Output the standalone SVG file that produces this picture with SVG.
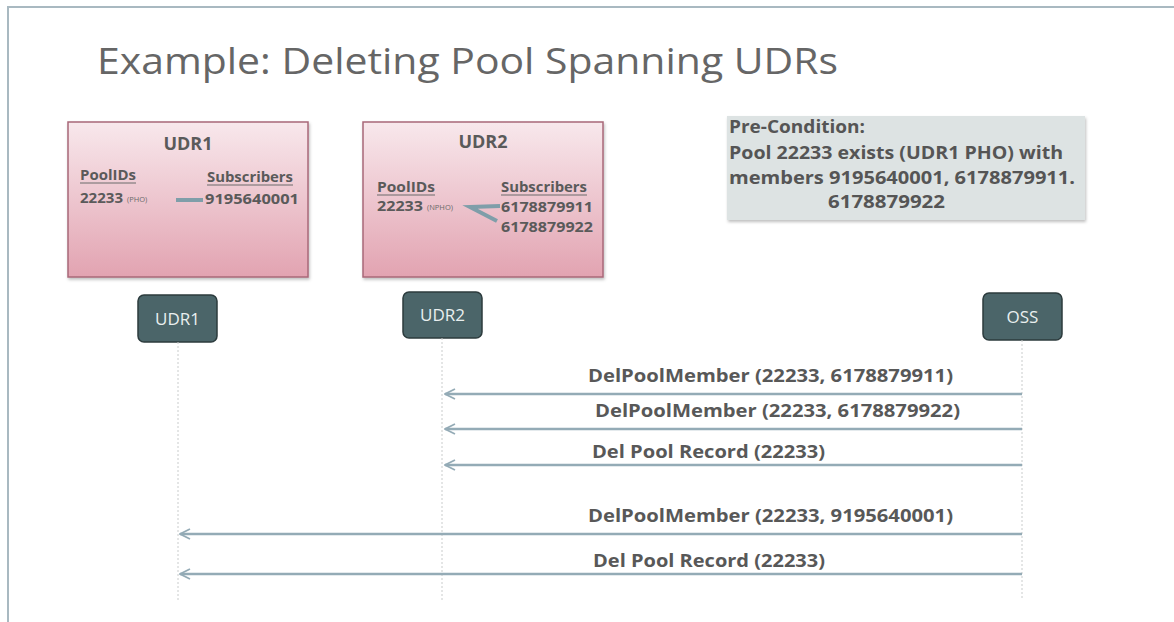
<svg xmlns="http://www.w3.org/2000/svg" width="1174" height="622" viewBox="0 0 1174 622">
  <style>
    .title { font-family: "Open Sans", "Liberation Sans", sans-serif; font-size: 37px; fill: #666666; }
    .hdr { font-family: "Open Sans", "Liberation Sans", sans-serif; font-weight: bold; font-size: 18px; fill: #5a5a5a; }
    .cell { font-family: "Open Sans", "Liberation Sans", sans-serif; font-weight: bold; font-size: 14px; fill: #5a5a5a; }
    .tiny { font-family: "Open Sans", "Liberation Sans", sans-serif; font-size: 7.5px; fill: #6a6a6a; }
    .ul { stroke: #6a6a6a; stroke-width: 1; }
    .note { font-family: "Open Sans", "Liberation Sans", sans-serif; font-weight: bold; font-size: 18px; fill: #555555; }
    .actor rect { fill: #4b6569; stroke: #2c3b3d; stroke-width: 1.5; }
    .actor text { font-family: "Open Sans", "Liberation Sans", sans-serif; font-size: 17px; fill: #e9efef; text-anchor: middle; }
    .life { stroke: #c9cccc; stroke-width: 1; stroke-dasharray: 2 2; fill: none; }
    .msg { stroke: #94abb6; stroke-width: 2.5; fill: none; marker-end: url(#open); }
    .lbl { font-family: "Open Sans", "Liberation Sans", sans-serif; font-weight: bold; font-size: 18px; fill: #585858; }
    .link { stroke: #7f9ea9; stroke-width: 4; fill: none; }
    .store { fill: url(#pink); stroke: #a86878; stroke-width: 1.5; }
  </style>
  <defs>
    <linearGradient id="pink" x1="0" y1="0" x2="0" y2="1">
      <stop offset="0" stop-color="#f8e8ec"/>
      <stop offset="1" stop-color="#e2a3b1"/>
    </linearGradient>
    <marker id="open" viewBox="0 0 12 12" refX="11" refY="6" markerWidth="12" markerHeight="12" markerUnits="userSpaceOnUse" orient="auto">
      <path d="M1 1 L11 6 L1 11" fill="none" stroke="#94abb6" stroke-width="1.8"/>
    </marker>
    <filter id="shadow" x="-5%" y="-5%" width="115%" height="115%">
      <feDropShadow dx="1" dy="2" stdDeviation="1.5" flood-color="#000" flood-opacity="0.25"/>
    </filter>
  </defs>

  <!-- page -->
  <rect x="0" y="0" width="1174" height="622" fill="#ffffff"/>
  <line x1="7" y1="7" x2="1174" y2="7" stroke="#a9b9c1" stroke-width="2"/>
  <line x1="8" y1="7" x2="8" y2="622" stroke="#a9b9c1" stroke-width="2"/>

  <text class="title" x="97" y="74" textLength="741" lengthAdjust="spacingAndGlyphs">Example:  Deleting Pool Spanning UDRs</text>

  <!-- UDR1 data store -->
  <g id="store-udr1">
    <rect class="store" x="68" y="122" width="240" height="155" filter="url(#shadow)"/>
    <text class="hdr" x="188" y="150" text-anchor="middle">UDR1</text>
    <text class="cell" x="80" y="180" textLength="56" lengthAdjust="spacingAndGlyphs">PoolIDs</text>
    <line class="ul" x1="80" y1="183" x2="136" y2="183"/>
    <text class="cell" x="207" y="182" textLength="86" lengthAdjust="spacingAndGlyphs">Subscribers</text>
    <line class="ul" x1="207" y1="185" x2="293" y2="185"/>
    <text class="cell" x="80" y="203" textLength="43" lengthAdjust="spacingAndGlyphs">22233</text>
    <text class="tiny" x="127" y="202">(PHO)</text>
    <line class="link" x1="176" y1="200" x2="203" y2="200"/>
    <text class="cell" x="205" y="204" textLength="94" lengthAdjust="spacingAndGlyphs">9195640001</text>
  </g>

  <!-- UDR2 data store -->
  <g id="store-udr2">
    <rect class="store" x="363" y="122" width="240" height="155" filter="url(#shadow)"/>
    <text class="hdr" x="483" y="148" text-anchor="middle">UDR2</text>
    <text class="cell" x="377" y="192" textLength="58" lengthAdjust="spacingAndGlyphs">PoolIDs</text>
    <line class="ul" x1="377" y1="195" x2="435" y2="195"/>
    <text class="cell" x="501" y="192" textLength="86" lengthAdjust="spacingAndGlyphs">Subscribers</text>
    <line class="ul" x1="501" y1="195" x2="587" y2="195"/>
    <text class="cell" x="377" y="211" textLength="46" lengthAdjust="spacingAndGlyphs">22233</text>
    <text class="tiny" x="427" y="210">(NPHO)</text>
    <path class="link" d="M500 206 L470 207 L497 221"/>
    <text class="cell" x="501" y="212" textLength="92" lengthAdjust="spacingAndGlyphs">6178879911</text>
    <text class="cell" x="501" y="232" textLength="92" lengthAdjust="spacingAndGlyphs">6178879922</text>
  </g>

  <!-- pre-condition note -->
  <g id="precondition">
    <rect x="727" y="116" width="358" height="104" fill="#dde3e3" filter="url(#shadow)"/>
    <text class="note" x="729" y="133" textLength="136" lengthAdjust="spacingAndGlyphs">Pre-Condition:</text>
    <text class="note" x="729" y="159" textLength="334" lengthAdjust="spacingAndGlyphs">Pool 22233 exists (UDR1 PHO) with</text>
    <text class="note" x="729" y="184" textLength="346" lengthAdjust="spacingAndGlyphs">members 9195640001, 6178879911.</text>
    <text class="note" x="828" y="208" textLength="117" lengthAdjust="spacingAndGlyphs">6178879922</text>
  </g>

  <!-- lifeline heads -->
  <g id="actor-udr1" class="actor">
    <rect x="138" y="295" width="79" height="47" rx="6"/>
    <text x="177.5" y="325">UDR1</text>
  </g>
  <g id="actor-udr2" class="actor">
    <rect x="403" y="292" width="79" height="46" rx="6"/>
    <text x="442.5" y="321">UDR2</text>
  </g>
  <g id="actor-oss" class="actor">
    <rect x="983" y="293" width="79" height="47" rx="6"/>
    <text x="1022.5" y="323">OSS</text>
  </g>

  <!-- lifelines and messages -->
  <g id="connectors">
    <line class="life" x1="178" y1="342" x2="178" y2="600"/>
    <line class="life" x1="442" y1="338" x2="442" y2="600"/>
    <line class="life" x1="1022" y1="340" x2="1022" y2="600"/>

    <line class="msg" x1="1022" y1="394" x2="445" y2="394"/>
    <line class="msg" x1="1022" y1="429" x2="445" y2="429"/>
    <line class="msg" x1="1022" y1="465" x2="445" y2="465"/>
    <line class="msg" x1="1022" y1="534" x2="180" y2="534"/>
    <line class="msg" x1="1022" y1="574" x2="180" y2="574"/>
  </g>

  <g id="labels">
    <text class="lbl" x="588" y="382" textLength="365" lengthAdjust="spacingAndGlyphs">DelPoolMember (22233, 6178879911)</text>
    <text class="lbl" x="595" y="417" textLength="365" lengthAdjust="spacingAndGlyphs">DelPoolMember (22233, 6178879922)</text>
    <text class="lbl" x="592" y="458" textLength="233" lengthAdjust="spacingAndGlyphs">Del Pool Record (22233)</text>
    <text class="lbl" x="588" y="522" textLength="365" lengthAdjust="spacingAndGlyphs">DelPoolMember (22233, 9195640001)</text>
    <text class="lbl" x="593" y="567" textLength="232" lengthAdjust="spacingAndGlyphs">Del Pool Record (22233)</text>
  </g>
</svg>
